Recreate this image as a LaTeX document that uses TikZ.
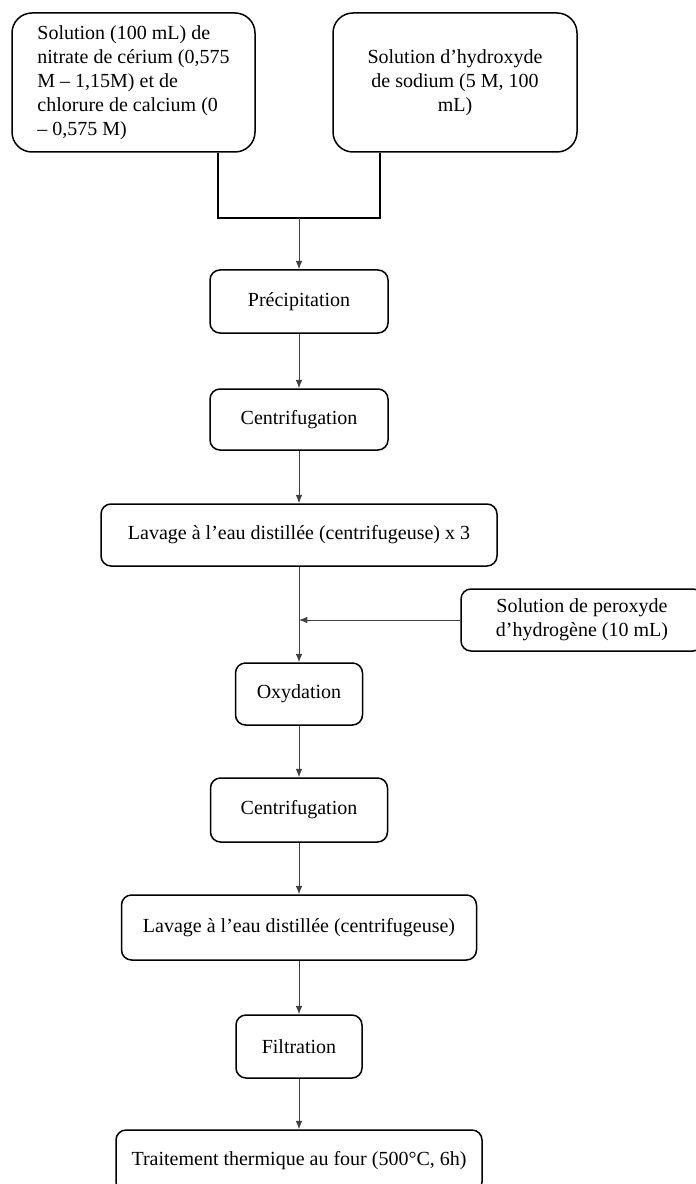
\documentclass[tikz,border=0pt]{standalone}
\usepackage{fontspec}
\setmainfont{Liberation Serif}
\usepackage{tikz}
\usetikzlibrary{arrows.meta}

\begin{document}
\begin{tikzpicture}[x=0.6pt, y=-0.6pt,
  every node/.style={font=\fontsize{12}{14.4}\selectfont},
  etape/.style={draw, line width=0.9pt, rounded corners=6pt, align=center, inner sep=3pt},
  solution/.style={etape, rounded corners=12pt},
  fleche/.style={draw=black!75, line width=0.6pt, -{Latex[length=5pt,width=4pt]}},
  lien/.style={draw, line width=1.1pt}]
  \useasboundingbox (0,0) rectangle (696,1184);

  \node[solution, align=left, minimum width=145.8pt, minimum height=83.4pt] (cerium) at (133.5,82.5)
    {Solution (100 mL) de\\ nitrate de cérium (0,575\\ M – 1,15M) et de\\ chlorure de calcium (0\\ – 0,575 M)};
  \node[solution, minimum width=146.4pt, minimum height=83.4pt] (soude) at (455,82.5)
    {Solution d’hydroxyde\\ de sodium (5 M, 100\\ mL)};
  \coordinate (jonction) at (299,218);

  \node[etape, minimum width=106.8pt, minimum height=37.8pt] (precip) at (299,301.5) {Précipitation};
  \node[etape, minimum width=106.8pt, minimum height=36.6pt] (centri1) at (299,419.5) {Centrifugation};
  \node[etape, minimum width=237.6pt, minimum height=37.2pt] (lavage1) at (299,535) {Lavage à l’eau distillée (centrifugeuse) x 3};
  \node[etape, minimum width=145.2pt, minimum height=37.2pt] (peroxyde) at (582,620) {Solution de peroxyde\\ d’hydrogène (10 mL)};
  \node[etape, minimum width=76.2pt, minimum height=37.2pt] (oxyd) at (299,694) {Oxydation};
  \node[etape, minimum width=106.2pt, minimum height=38.4pt] (centri2) at (299,810) {Centrifugation};
  \node[etape, minimum width=213pt, minimum height=39pt] (lavage2) at (299,927.5) {Lavage à l’eau distillée (centrifugeuse)};
  \node[etape, minimum width=75.6pt, minimum height=37.8pt] (filtr) at (299,1046.5) {Filtration};
  \node[etape, minimum width=219.6pt, minimum height=37.2pt] (four) at (299,1161) {Traitement thermique au four (500°C, 6h)};

  \coordinate (ajout) at (oxyd.north |- peroxyde.west);

  \draw[lien] ([xshift=50.7pt]cerium.south) |- (jonction) -| ([xshift=-45pt]soude.south);
  \draw[fleche] (jonction) -- (precip);
  \draw[fleche] (precip) -- (centri1);
  \draw[fleche] (centri1) -- (lavage1);
  \draw[fleche] (lavage1) -- (oxyd);
  \draw[fleche] (peroxyde.west) -- (ajout);
  \draw[fleche] (oxyd) -- (centri2);
  \draw[fleche] (centri2) -- (lavage2);
  \draw[fleche] (lavage2) -- (filtr);
  \draw[fleche] (filtr) -- (four);
\end{tikzpicture}
\end{document}
